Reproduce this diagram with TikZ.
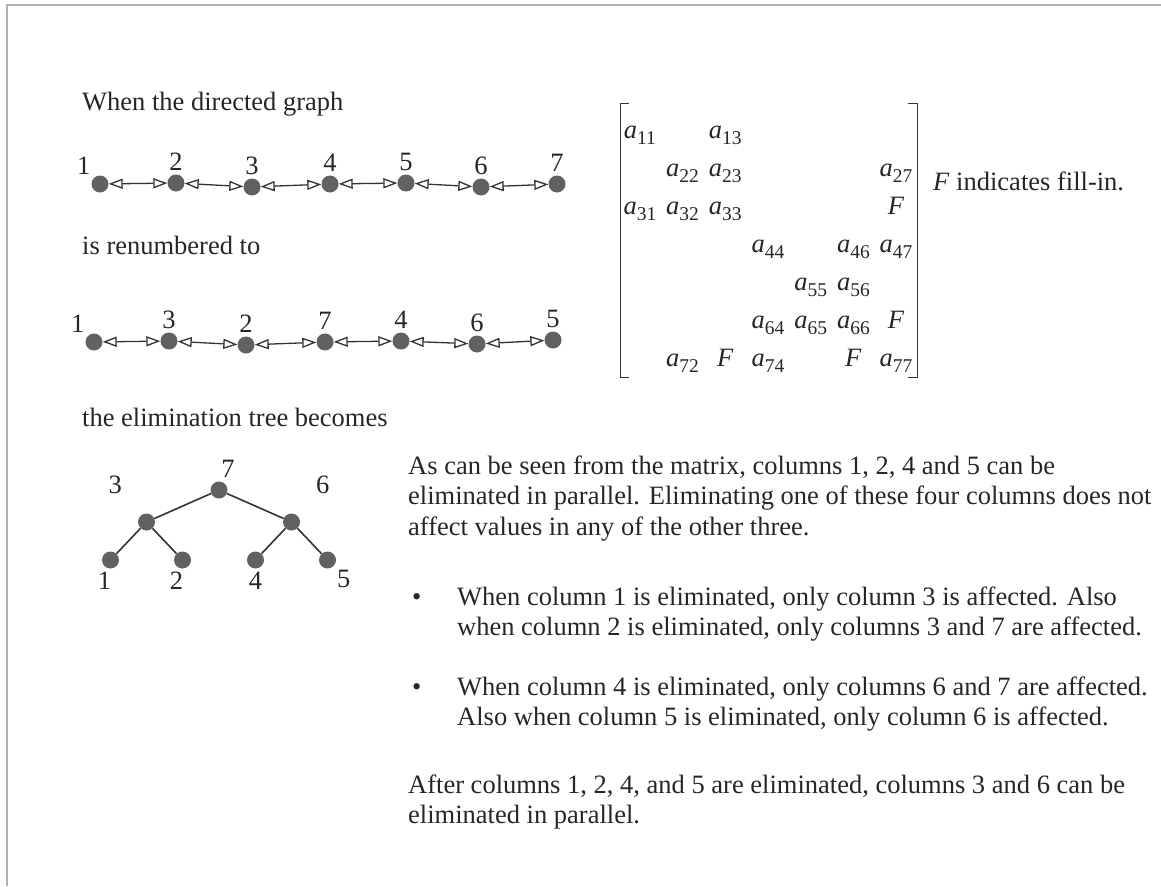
\documentclass[tikz,border=0pt]{standalone}
\usepackage{fontspec}
\setmainfont{Liberation Serif}
\usetikzlibrary{arrows.meta,matrix}

\newcommand{\aij}[1]{\textit{a}\raisebox{-0.5ex}{\fontsize{19.5}{19.5}\selectfont #1}}

\begin{document}
\begin{tikzpicture}[x=1pt, y=-1pt,
        every node/.style={font=\fontsize{26.5}{30.5}\selectfont, text=black!85},
        vtx/.style={circle, fill=black!62, minimum size=17pt, inner sep=0pt},
        link/.style={{Triangle[open, length=14pt, width=10pt]}-{Triangle[open, length=14pt, width=10pt]}, line width=1.3pt, black!80},
        txt/.style={anchor=base west, align=left, inner sep=0pt},
        level 1/.style={sibling distance=145pt, level distance=32pt},
        level 2/.style={sibling distance=72pt, level distance=38pt},
        edge from parent/.style={draw, line width=1.6pt, black!80}
    ]
        \useasboundingbox (0,0) rectangle (1161,886);
        \draw[gray!60, line width=1.5pt] (7,886) -- (7,5) -- (1161,5);

        \node[txt] (cap1) at (82,110) {When the directed graph};
        \foreach \x/\y/\n/\p [count=\i] in {100/184/1/above left, 176/183/2/above, 252/187/3/above, 330/184/4/above,
                406/183/5/above, 481/187/6/above, 557/184/7/above}
            \node[vtx, label={\p:\n}] (a\i) at (\x,\y) {};
        \foreach \i [evaluate=\i as \j using int(\i+1)] in {1,...,6}
            \draw[link] (a\i) -- (a\j);

        \node[txt] (cap2) at (82,254) {is renumbered to};
        \foreach \x/\y/\n/\p [count=\i] in {94/342/1/above left, 169/341/3/above, 246/345/2/above, 325/342/7/above,
                401/341/4/above, 477/344/6/above, 553/340/5/above}
            \node[vtx, label={\p:\n}] (b\i) at (\x,\y) {};
        \foreach \i [evaluate=\i as \j using int(\i+1)] in {1,...,6}
            \draw[link] (b\i) -- (b\j);

        \node[txt] (cap3) at (82,426) {the elimination tree becomes};
        \node[vtx, label={[xshift=9pt]above:7}] (t7) at (219,490) {}
        child {
            node[vtx, label={[label distance=24pt]130:3}] (t3) {}
            child {node[vtx, label={[xshift=-6pt]below:1}] (t1) {}}
            child {node[vtx, label={[xshift=-6pt]below:2}] (t2) {}}
        }
        child {
            node[vtx, label={[label distance=24pt]50:6}] (t6) {}
            child {node[vtx, label={below:4}] (t4) {}}
            child {node[vtx, label={below right:5}] (t5) {}}
        };

        \matrix[matrix of nodes, nodes in empty cells, inner sep=0pt, row sep=0pt, column sep=0pt,
            nodes={minimum width=42.7pt, text height=24pt, text depth=14pt, inner sep=0pt}] (m) at (768,247.5) {
            \aij{11} & & \aij{13} & & & & \\
            & \aij{22} & \aij{23} & & & & \aij{27} \\
            \aij{31} & \aij{32} & \aij{33} & & & & \textit{F} \\
            & & & \aij{44} & & \aij{46} & \aij{47} \\
            & & & & \aij{55} & \aij{56} & \\
            & & & \aij{64} & \aij{65} & \aij{66} & \textit{F} \\
            & \aij{72} & \textit{F} & \aij{74} & & \textit{F} & \aij{77} \\
        };
        \draw[thick, black!80] (629,103) -- (620,103) -- (620,377) -- (629,377);
        \draw[thick, black!80] (908,103) -- (917,103) -- (917,377) -- (908,377);
        \node[txt] (note) at (933,190) {\textit{F} indicates fill-in.};

        % multi-line nodes sit on their last baseline
        \node[txt] (p1) at (408,535) {As can be seen from the matrix, columns 1, 2, 4 and 5 can be\\
            eliminated in parallel. Eliminating one of these four columns does not\\
            affect values in any of the other three.};
        \node[txt] (d1) at (412,605) {\textbullet};
        \node[txt] (b1) at (457,635.5) {When column 1 is eliminated, only column 3 is affected. Also\\
            when column 2 is eliminated, only columns 3 and 7 are affected.};
        \node[txt] (d2) at (412,695) {\textbullet};
        \node[txt] (b2) at (457,725.5) {When column 4 is eliminated, only columns 6 and 7 are affected.\\
            Also when column 5 is eliminated, only column 6 is affected.};
        \node[txt] (p2) at (408,823.5) {After columns 1, 2, 4, and 5 are eliminated, columns 3 and 6 can be\\
            eliminated in parallel.};
    \end{tikzpicture}
\end{document}
